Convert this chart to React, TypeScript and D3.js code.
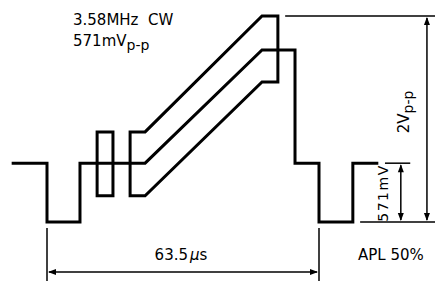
import React from "react";
import * as d3 from "d3";

// time in µs, level in mV (sync tip = 0)
const centerLine: [number, number][] = [
  [-7.9, 571], [0, 571], [0, 0], [7.7, 0], [7.7, 571], [22.9, 571],
  [50.2, 1670], [57.9, 1670], [57.9, 571], [63.5, 571], [63.5, 0],
  [71.4, 0], [71.4, 571], [77.0, 571],
];
const burst: [number, number][] = [
  [11.7, 255], [11.7, 875], [15.4, 875], [15.4, 255], [11.7, 255],
];
const envelope: [number, number][] = [
  [19.4, 255], [19.4, 875], [22.9, 875], [50.2, 2000], [53.9, 2000],
  [53.9, 1360], [50.2, 1360], [22.9, 255], [19.4, 255],
];

const lineLabel = "3.58MHz\u00a0 CW";
const ampLabel = "571mV";
const periodNum = "63.5";
const periodMu = "\u00b5";
const periodUnit = "s";
const aplLabel = "APL 50%";
const fullLabel = "2V";
const ppSub = "p-p";

const W = 435;
const H = 283;

export default function App() {
  const x = d3.scaleLinear().domain([0, 63.5]).range([47, 319]);
  const y = d3.scaleLinear().domain([0, 2000]).range([222, 16]);
  const line = d3.line<[number, number]>().x(d => x(d[0])).y(d => y(d[1]));

  const font = "'DejaVu Sans', sans-serif";
  const dim = { stroke: "#000", strokeWidth: 1.5 };

  const arrow = (px: number, py: number, dir: "up" | "down" | "left" | "right") => {
    const l = 8, w = 3;
    let pts: [number, number][] = [];
    if (dir === "up") pts = [[px, py], [px - w, py + l], [px + w, py + l]];
    if (dir === "down") pts = [[px, py], [px - w, py - l], [px + w, py - l]];
    if (dir === "left") pts = [[px, py], [px + l, py - w], [px + l, py + w]];
    if (dir === "right") pts = [[px, py], [px - l, py - w], [px - l, py + w]];
    return <polygon points={pts.map(p => p.join(",")).join(" ")} fill="#000" />;
  };

  const x2v = x(88.7);
  const x571 = x(82.6);
  const yTop = y(2000);
  const yBlank = y(571);
  const ySync = y(0);
  const yDim = 272;

  return (
    <svg width={W} height={H} style={{ position: "absolute", left: 0, top: 0, background: "#fff" }}>
      <g fill="none" stroke="#000" strokeWidth={3} strokeLinejoin="miter" strokeLinecap="square">
        <path d={line(centerLine) ?? ""} />
        <path d={line(burst) ?? ""} />
        <path d={line(envelope) ?? ""} />
      </g>

      {/* 2Vp-p dimension */}
      <line x1={x(55.6)} x2={W} y1={yTop} y2={yTop} {...dim} />
      <line x1={x(73.1)} x2={W} y1={ySync} y2={ySync} {...dim} />
      <line x1={x2v} x2={x2v} y1={yTop + 2} y2={ySync - 2} {...dim} />
      {arrow(x2v, yTop + 1, "up")}
      {arrow(x2v, ySync - 1, "down")}
      <text transform={`translate(${x(84.4)},112) rotate(-90)`} textAnchor="middle" fontFamily={font} fontSize={15}>
        {fullLabel}<tspan fontSize={14} dy={4}>{ppSub}</tspan>
      </text>

      {/* 571mV dimension */}
      <line x1={x(78.9)} x2={x(84.8)} y1={yBlank} y2={yBlank} {...dim} />
      <line x1={x571} x2={x571} y1={yBlank + 2} y2={ySync - 2} {...dim} />
      {arrow(x571, yBlank + 1, "up")}
      {arrow(x571, ySync - 1, "down")}
      <text transform={`translate(${x(78.6)},193) rotate(-90)`} textAnchor="middle" dominantBaseline="middle" fontFamily={font} fontSize={14} letterSpacing={1.5}>
        {ampLabel}
      </text>

      {/* 63.5us dimension */}
      <line x1={x(0)} x2={x(0)} y1={228} y2={281} {...dim} />
      <line x1={x(63.5)} x2={x(63.5)} y1={228} y2={281} {...dim} />
      <line x1={x(0) + 2} x2={x(63.5) - 2} y1={yDim} y2={yDim} {...dim} />
      {arrow(x(0) + 1, yDim, "left")}
      {arrow(x(63.5) - 1, yDim, "right")}
      <text x={(x(0) + x(63.5)) / 2 - 2} y={260} textAnchor="middle" fontFamily={font} fontSize={15}>
        {periodNum}
        <tspan fontStyle="italic" dx={2}>{periodMu}</tspan>
        {periodUnit}
      </text>
      <text x={358} y={260} fontFamily={font} fontSize={15}>{aplLabel}</text>

      {/* CW label */}
      <text x={73} y={25} fontFamily={font} fontSize={15}>{lineLabel}</text>
      <text x={73} y={46} fontFamily={font} fontSize={15}>
        {ampLabel}<tspan fontSize={14} dy={4}>{ppSub}</tspan>
      </text>
    </svg>
  );
}
